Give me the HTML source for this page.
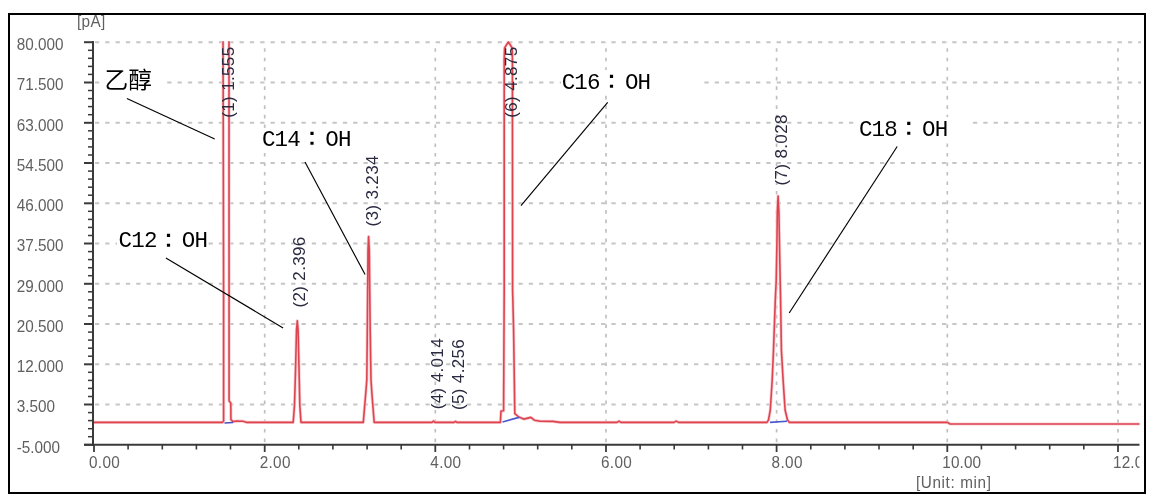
<!DOCTYPE html>
<html><head><meta charset="utf-8"><title>Chromatogram</title>
<style>
html,body{margin:0;padding:0;background:#fff;}
body{width:1157px;height:502px;overflow:hidden;}
svg{display:block;}
.ax{font-family:"Liberation Sans",sans-serif;font-size:15.3px;fill:#606060;}
.pk{font-family:"Liberation Sans",sans-serif;font-size:17px;fill:#2a2a40;}
.cjk{font-family:"Noto Sans CJK SC",sans-serif;font-size:23px;fill:#000;}
.mono{font-family:"Liberation Mono","Noto Sans CJK TC",monospace;font-size:22.5px;fill:#000;}
.colon{font-family:"IPAGothic","Noto Sans CJK JP",sans-serif;font-size:27px;}
.cjkc{font-family:"Noto Sans CJK SC",sans-serif;}
</style></head><body>
<svg width="1157" height="502" viewBox="0 0 1157 502">
<defs><filter id="bl" x="-1%" y="-1%" width="102%" height="102%"><feGaussianBlur stdDeviation="0.6"/></filter><clipPath id="pc"><rect x="94" y="41.3" width="1045.5" height="404"/></clipPath>
<clipPath id="lc"><rect x="0" y="0" width="1139.5" height="502"/></clipPath></defs>
<rect x="0" y="0" width="1157" height="502" fill="#fff"/>
<g filter="url(#bl)"><line x1="95" y1="42.2" x2="1141" y2="42.2" stroke="#c6c6c6" stroke-width="2" stroke-dasharray="4.3 6.03" stroke-dashoffset="0.1"/><line x1="95" y1="82.5" x2="1141" y2="82.5" stroke="#c6c6c6" stroke-width="2" stroke-dasharray="4.3 6.03" stroke-dashoffset="0.1"/><line x1="95" y1="122.8" x2="1141" y2="122.8" stroke="#c6c6c6" stroke-width="2" stroke-dasharray="4.3 6.03" stroke-dashoffset="0.1"/><line x1="95" y1="163.0" x2="1141" y2="163.0" stroke="#c6c6c6" stroke-width="2" stroke-dasharray="4.3 6.03" stroke-dashoffset="0.1"/><line x1="95" y1="203.3" x2="1141" y2="203.3" stroke="#c6c6c6" stroke-width="2" stroke-dasharray="4.3 6.03" stroke-dashoffset="0.1"/><line x1="95" y1="243.5" x2="1141" y2="243.5" stroke="#c6c6c6" stroke-width="2" stroke-dasharray="4.3 6.03" stroke-dashoffset="0.1"/><line x1="95" y1="283.8" x2="1141" y2="283.8" stroke="#c6c6c6" stroke-width="2" stroke-dasharray="4.3 6.03" stroke-dashoffset="0.1"/><line x1="95" y1="324.0" x2="1141" y2="324.0" stroke="#c6c6c6" stroke-width="2" stroke-dasharray="4.3 6.03" stroke-dashoffset="0.1"/><line x1="95" y1="364.3" x2="1141" y2="364.3" stroke="#c6c6c6" stroke-width="2" stroke-dasharray="4.3 6.03" stroke-dashoffset="0.1"/><line x1="95" y1="404.5" x2="1141" y2="404.5" stroke="#c6c6c6" stroke-width="2" stroke-dasharray="4.3 6.03" stroke-dashoffset="0.1"/><line x1="264.7" y1="42" x2="264.7" y2="444" stroke="#c0c0c0" stroke-width="1.7" stroke-dasharray="3.6 5.92" stroke-dashoffset="3.3"/><line x1="435.3" y1="42" x2="435.3" y2="444" stroke="#c0c0c0" stroke-width="1.7" stroke-dasharray="3.6 5.92" stroke-dashoffset="3.3"/><line x1="606.0" y1="42" x2="606.0" y2="444" stroke="#c0c0c0" stroke-width="1.7" stroke-dasharray="3.6 5.92" stroke-dashoffset="3.3"/><line x1="776.6" y1="42" x2="776.6" y2="444" stroke="#c0c0c0" stroke-width="1.7" stroke-dasharray="3.6 5.92" stroke-dashoffset="3.3"/><line x1="947.3" y1="42" x2="947.3" y2="444" stroke="#c0c0c0" stroke-width="1.7" stroke-dasharray="3.6 5.92" stroke-dashoffset="3.3"/><line x1="1118.0" y1="42" x2="1118.0" y2="444" stroke="#c0c0c0" stroke-width="1.7" stroke-dasharray="3.6 5.92" stroke-dashoffset="3.3"/></g>
<g fill="#fff"><rect x="100" y="65" width="65" height="30"/><rect x="117" y="229" width="91" height="22"/><rect x="259" y="128" width="94" height="22"/><rect x="561" y="70" width="142" height="23"/><rect x="855" y="117" width="115" height="23"/></g>
<g clip-path="url(#lc)"><text transform="translate(16.7,49.9) scale(1,1.1)" class="ax">80.000</text><text transform="translate(16.7,90.2) scale(1,1.1)" class="ax">71.500</text><text transform="translate(16.7,130.5) scale(1,1.1)" class="ax">63.000</text><text transform="translate(16.7,170.7) scale(1,1.1)" class="ax">54.500</text><text transform="translate(16.7,211.0) scale(1,1.1)" class="ax">46.000</text><text transform="translate(16.7,251.2) scale(1,1.1)" class="ax">37.500</text><text transform="translate(16.7,291.5) scale(1,1.1)" class="ax">29.000</text><text transform="translate(16.7,331.7) scale(1,1.1)" class="ax">20.500</text><text transform="translate(16.7,372.0) scale(1,1.1)" class="ax">12.000</text><text transform="translate(16.7,412.2) scale(1,1.1)" class="ax">3.500</text><text transform="translate(16.7,452.5) scale(1,1.1)" class="ax">-5.000</text><text transform="translate(89.0,468.0) scale(1,1.1)" class="ax" textLength="30.8" lengthAdjust="spacing">0.00</text><text transform="translate(259.7,468.0) scale(1,1.1)" class="ax" textLength="30.8" lengthAdjust="spacing">2.00</text><text transform="translate(430.3,468.0) scale(1,1.1)" class="ax" textLength="30.8" lengthAdjust="spacing">4.00</text><text transform="translate(601.0,468.0) scale(1,1.1)" class="ax" textLength="30.8" lengthAdjust="spacing">6.00</text><text transform="translate(771.6,468.0) scale(1,1.1)" class="ax" textLength="30.8" lengthAdjust="spacing">8.00</text><text transform="translate(942.3,468.0) scale(1,1.1)" class="ax" textLength="38.8" lengthAdjust="spacing">10.00</text><text transform="translate(1113.0,468.0) scale(1,1.1)" class="ax" textLength="38.8" lengthAdjust="spacing">12.00</text><text transform="translate(77.0,27.3) scale(1,1.1)" class="ax" textLength="28.2" lengthAdjust="spacing">[pA]</text><text transform="translate(915.9,488.3) scale(1,1.1)" class="ax" textLength="75" lengthAdjust="spacing">[Unit: min]</text></g>
<g><line x1="93" y1="41" x2="93" y2="446" stroke="#3a3a3a" stroke-width="2"/><line x1="84" y1="444.8" x2="1139.5" y2="444.8" stroke="#3a3a3a" stroke-width="2"/><line x1="84" y1="42.2" x2="93" y2="42.2" stroke="#3a3a3a" stroke-width="2"/><line x1="88" y1="50.3" x2="93" y2="50.3" stroke="#3a3a3a" stroke-width="1.5"/><line x1="88" y1="58.3" x2="93" y2="58.3" stroke="#3a3a3a" stroke-width="1.5"/><line x1="88" y1="66.4" x2="93" y2="66.4" stroke="#3a3a3a" stroke-width="1.5"/><line x1="88" y1="74.4" x2="93" y2="74.4" stroke="#3a3a3a" stroke-width="1.5"/><line x1="84" y1="82.5" x2="93" y2="82.5" stroke="#3a3a3a" stroke-width="2"/><line x1="88" y1="90.5" x2="93" y2="90.5" stroke="#3a3a3a" stroke-width="1.5"/><line x1="88" y1="98.6" x2="93" y2="98.6" stroke="#3a3a3a" stroke-width="1.5"/><line x1="88" y1="106.6" x2="93" y2="106.6" stroke="#3a3a3a" stroke-width="1.5"/><line x1="88" y1="114.7" x2="93" y2="114.7" stroke="#3a3a3a" stroke-width="1.5"/><line x1="84" y1="122.8" x2="93" y2="122.8" stroke="#3a3a3a" stroke-width="2"/><line x1="88" y1="130.8" x2="93" y2="130.8" stroke="#3a3a3a" stroke-width="1.5"/><line x1="88" y1="138.9" x2="93" y2="138.9" stroke="#3a3a3a" stroke-width="1.5"/><line x1="88" y1="146.9" x2="93" y2="146.9" stroke="#3a3a3a" stroke-width="1.5"/><line x1="88" y1="155.0" x2="93" y2="155.0" stroke="#3a3a3a" stroke-width="1.5"/><line x1="84" y1="163.0" x2="93" y2="163.0" stroke="#3a3a3a" stroke-width="2"/><line x1="88" y1="171.1" x2="93" y2="171.1" stroke="#3a3a3a" stroke-width="1.5"/><line x1="88" y1="179.1" x2="93" y2="179.1" stroke="#3a3a3a" stroke-width="1.5"/><line x1="88" y1="187.2" x2="93" y2="187.2" stroke="#3a3a3a" stroke-width="1.5"/><line x1="88" y1="195.2" x2="93" y2="195.2" stroke="#3a3a3a" stroke-width="1.5"/><line x1="84" y1="203.3" x2="93" y2="203.3" stroke="#3a3a3a" stroke-width="2"/><line x1="88" y1="211.3" x2="93" y2="211.3" stroke="#3a3a3a" stroke-width="1.5"/><line x1="88" y1="219.4" x2="93" y2="219.4" stroke="#3a3a3a" stroke-width="1.5"/><line x1="88" y1="227.4" x2="93" y2="227.4" stroke="#3a3a3a" stroke-width="1.5"/><line x1="88" y1="235.5" x2="93" y2="235.5" stroke="#3a3a3a" stroke-width="1.5"/><line x1="84" y1="243.5" x2="93" y2="243.5" stroke="#3a3a3a" stroke-width="2"/><line x1="88" y1="251.6" x2="93" y2="251.6" stroke="#3a3a3a" stroke-width="1.5"/><line x1="88" y1="259.6" x2="93" y2="259.6" stroke="#3a3a3a" stroke-width="1.5"/><line x1="88" y1="267.7" x2="93" y2="267.7" stroke="#3a3a3a" stroke-width="1.5"/><line x1="88" y1="275.7" x2="93" y2="275.7" stroke="#3a3a3a" stroke-width="1.5"/><line x1="84" y1="283.8" x2="93" y2="283.8" stroke="#3a3a3a" stroke-width="2"/><line x1="88" y1="291.8" x2="93" y2="291.8" stroke="#3a3a3a" stroke-width="1.5"/><line x1="88" y1="299.9" x2="93" y2="299.9" stroke="#3a3a3a" stroke-width="1.5"/><line x1="88" y1="307.9" x2="93" y2="307.9" stroke="#3a3a3a" stroke-width="1.5"/><line x1="88" y1="316.0" x2="93" y2="316.0" stroke="#3a3a3a" stroke-width="1.5"/><line x1="84" y1="324.0" x2="93" y2="324.0" stroke="#3a3a3a" stroke-width="2"/><line x1="88" y1="332.1" x2="93" y2="332.1" stroke="#3a3a3a" stroke-width="1.5"/><line x1="88" y1="340.1" x2="93" y2="340.1" stroke="#3a3a3a" stroke-width="1.5"/><line x1="88" y1="348.2" x2="93" y2="348.2" stroke="#3a3a3a" stroke-width="1.5"/><line x1="88" y1="356.2" x2="93" y2="356.2" stroke="#3a3a3a" stroke-width="1.5"/><line x1="84" y1="364.3" x2="93" y2="364.3" stroke="#3a3a3a" stroke-width="2"/><line x1="88" y1="372.3" x2="93" y2="372.3" stroke="#3a3a3a" stroke-width="1.5"/><line x1="88" y1="380.4" x2="93" y2="380.4" stroke="#3a3a3a" stroke-width="1.5"/><line x1="88" y1="388.4" x2="93" y2="388.4" stroke="#3a3a3a" stroke-width="1.5"/><line x1="88" y1="396.5" x2="93" y2="396.5" stroke="#3a3a3a" stroke-width="1.5"/><line x1="84" y1="404.5" x2="93" y2="404.5" stroke="#3a3a3a" stroke-width="2"/><line x1="88" y1="412.6" x2="93" y2="412.6" stroke="#3a3a3a" stroke-width="1.5"/><line x1="88" y1="420.6" x2="93" y2="420.6" stroke="#3a3a3a" stroke-width="1.5"/><line x1="88" y1="428.7" x2="93" y2="428.7" stroke="#3a3a3a" stroke-width="1.5"/><line x1="88" y1="436.7" x2="93" y2="436.7" stroke="#3a3a3a" stroke-width="1.5"/><line x1="84" y1="444.8" x2="93" y2="444.8" stroke="#3a3a3a" stroke-width="2"/><line x1="94.0" y1="444.8" x2="94.0" y2="452" stroke="#3a3a3a" stroke-width="1.8"/><line x1="128.1" y1="444.8" x2="128.1" y2="449.5" stroke="#3a3a3a" stroke-width="1.6"/><line x1="162.3" y1="444.8" x2="162.3" y2="449.5" stroke="#3a3a3a" stroke-width="1.6"/><line x1="196.4" y1="444.8" x2="196.4" y2="449.5" stroke="#3a3a3a" stroke-width="1.6"/><line x1="230.5" y1="444.8" x2="230.5" y2="449.5" stroke="#3a3a3a" stroke-width="1.6"/><line x1="264.7" y1="444.8" x2="264.7" y2="452" stroke="#3a3a3a" stroke-width="1.8"/><line x1="298.8" y1="444.8" x2="298.8" y2="449.5" stroke="#3a3a3a" stroke-width="1.6"/><line x1="332.9" y1="444.8" x2="332.9" y2="449.5" stroke="#3a3a3a" stroke-width="1.6"/><line x1="367.1" y1="444.8" x2="367.1" y2="449.5" stroke="#3a3a3a" stroke-width="1.6"/><line x1="401.2" y1="444.8" x2="401.2" y2="449.5" stroke="#3a3a3a" stroke-width="1.6"/><line x1="435.3" y1="444.8" x2="435.3" y2="452" stroke="#3a3a3a" stroke-width="1.8"/><line x1="469.5" y1="444.8" x2="469.5" y2="449.5" stroke="#3a3a3a" stroke-width="1.6"/><line x1="503.6" y1="444.8" x2="503.6" y2="449.5" stroke="#3a3a3a" stroke-width="1.6"/><line x1="537.7" y1="444.8" x2="537.7" y2="449.5" stroke="#3a3a3a" stroke-width="1.6"/><line x1="571.8" y1="444.8" x2="571.8" y2="449.5" stroke="#3a3a3a" stroke-width="1.6"/><line x1="606.0" y1="444.8" x2="606.0" y2="452" stroke="#3a3a3a" stroke-width="1.8"/><line x1="640.1" y1="444.8" x2="640.1" y2="449.5" stroke="#3a3a3a" stroke-width="1.6"/><line x1="674.2" y1="444.8" x2="674.2" y2="449.5" stroke="#3a3a3a" stroke-width="1.6"/><line x1="708.4" y1="444.8" x2="708.4" y2="449.5" stroke="#3a3a3a" stroke-width="1.6"/><line x1="742.5" y1="444.8" x2="742.5" y2="449.5" stroke="#3a3a3a" stroke-width="1.6"/><line x1="776.6" y1="444.8" x2="776.6" y2="452" stroke="#3a3a3a" stroke-width="1.8"/><line x1="810.8" y1="444.8" x2="810.8" y2="449.5" stroke="#3a3a3a" stroke-width="1.6"/><line x1="844.9" y1="444.8" x2="844.9" y2="449.5" stroke="#3a3a3a" stroke-width="1.6"/><line x1="879.0" y1="444.8" x2="879.0" y2="449.5" stroke="#3a3a3a" stroke-width="1.6"/><line x1="913.2" y1="444.8" x2="913.2" y2="449.5" stroke="#3a3a3a" stroke-width="1.6"/><line x1="947.3" y1="444.8" x2="947.3" y2="452" stroke="#3a3a3a" stroke-width="1.8"/><line x1="981.4" y1="444.8" x2="981.4" y2="449.5" stroke="#3a3a3a" stroke-width="1.6"/><line x1="1015.6" y1="444.8" x2="1015.6" y2="449.5" stroke="#3a3a3a" stroke-width="1.6"/><line x1="1049.7" y1="444.8" x2="1049.7" y2="449.5" stroke="#3a3a3a" stroke-width="1.6"/><line x1="1083.8" y1="444.8" x2="1083.8" y2="449.5" stroke="#3a3a3a" stroke-width="1.6"/><line x1="1118.0" y1="444.8" x2="1118.0" y2="452" stroke="#3a3a3a" stroke-width="1.8"/></g>
<g clip-path="url(#pc)"><polyline points="94.0,422.4 222.6,422.4 223.6,420.9 223.6,300.0 223.1,60.0 223.0,30.0 229.0,30.0 229.0,60.0 229.1,401.0 230.8,403.0 230.9,419.5 233.0,421.6 237.0,421.0 243.0,421.2 247.0,422.4 293.2,422.4 294.5,405.0 295.6,368.0 296.5,330.0 297.3,320.8 298.1,330.0 299.0,368.0 299.8,405.0 301.0,422.4 363.3,422.4 365.6,395.0 366.8,380.0 367.3,330.0 368.0,250.0 368.6,236.5 369.3,250.0 370.2,330.0 371.0,380.0 372.0,395.0 374.2,422.4 432.0,422.4 433.5,421.0 435.0,422.4 454.0,422.4 455.5,421.4 457.0,422.4 500.4,422.4 501.0,411.0 503.6,410.8 504.2,290.0 504.2,60.0 504.6,48.0 508.3,41.8 512.2,48.0 512.4,60.0 512.6,290.0 513.6,330.0 514.8,413.7 518.9,417.0 523.7,419.1 530.9,417.4 534.4,420.2 540.0,421.2 553.0,421.4 560.0,422.4 617.0,422.4 619.0,421.1 621.0,422.4 674.0,422.4 676.2,421.1 678.5,422.4 767.0,422.4 768.5,420.0 770.3,410.0 772.2,380.0 773.5,350.0 775.3,300.0 776.2,281.0 776.9,245.0 777.3,212.0 778.1,196.0 778.9,212.0 779.5,245.0 780.2,281.0 780.6,300.0 781.4,350.0 783.1,380.0 785.1,410.0 787.5,420.0 789.5,422.4 947.5,422.4 950.0,424.0 1140.0,424.0" fill="none" stroke="#f9cdd1" stroke-width="3.2" stroke-linejoin="round"/><polyline points="94.0,422.4 222.6,422.4 223.6,420.9 223.6,300.0 223.1,60.0 223.0,30.0 229.0,30.0 229.0,60.0 229.1,401.0 230.8,403.0 230.9,419.5 233.0,421.6 237.0,421.0 243.0,421.2 247.0,422.4 293.2,422.4 294.5,405.0 295.6,368.0 296.5,330.0 297.3,320.8 298.1,330.0 299.0,368.0 299.8,405.0 301.0,422.4 363.3,422.4 365.6,395.0 366.8,380.0 367.3,330.0 368.0,250.0 368.6,236.5 369.3,250.0 370.2,330.0 371.0,380.0 372.0,395.0 374.2,422.4 432.0,422.4 433.5,421.0 435.0,422.4 454.0,422.4 455.5,421.4 457.0,422.4 500.4,422.4 501.0,411.0 503.6,410.8 504.2,290.0 504.2,60.0 504.6,48.0 508.3,41.8 512.2,48.0 512.4,60.0 512.6,290.0 513.6,330.0 514.8,413.7 518.9,417.0 523.7,419.1 530.9,417.4 534.4,420.2 540.0,421.2 553.0,421.4 560.0,422.4 617.0,422.4 619.0,421.1 621.0,422.4 674.0,422.4 676.2,421.1 678.5,422.4 767.0,422.4 768.5,420.0 770.3,410.0 772.2,380.0 773.5,350.0 775.3,300.0 776.2,281.0 776.9,245.0 777.3,212.0 778.1,196.0 778.9,212.0 779.5,245.0 780.2,281.0 780.6,300.0 781.4,350.0 783.1,380.0 785.1,410.0 787.5,420.0 789.5,422.4 947.5,422.4 950.0,424.0 1140.0,424.0" fill="none" stroke="#dc4450" stroke-width="1.6" stroke-linejoin="round"/><line x1="224.5" y1="423" x2="233" y2="422.6" stroke="#4a50c0" stroke-width="1.5"/><line x1="502.5" y1="422" x2="519" y2="417.3" stroke="#4a58d0" stroke-width="1.8"/><line x1="770" y1="422.4" x2="787" y2="421.2" stroke="#4a58d0" stroke-width="1.6"/></g>
<g><text transform="translate(234,117.7) rotate(-90)" class="pk" textLength="70.8" lengthAdjust="spacing">(1) 1.555</text><text transform="translate(304.5,307.5) rotate(-90)" class="pk" textLength="70.8" lengthAdjust="spacing">(2) 2.396</text><text transform="translate(378.1,226.4) rotate(-90)" class="pk" textLength="70.8" lengthAdjust="spacing">(3) 3.234</text><text transform="translate(443,409.2) rotate(-90)" class="pk" textLength="70.8" lengthAdjust="spacing">(4) 4.014</text><text transform="translate(463.8,410) rotate(-90)" class="pk" textLength="70.8" lengthAdjust="spacing">(5) 4.256</text><text transform="translate(517,117.7) rotate(-90)" class="pk" textLength="70.8" lengthAdjust="spacing">(6) 4.875</text><text transform="translate(787,185.4) rotate(-90)" class="pk" textLength="70.8" lengthAdjust="spacing">(7) 8.028</text></g>
<g><text transform="translate(104.6,88.4) scale(1.03,0.97)" class="cjk">乙醇</text><text x="118.6 131.2 143.9" y="247.2" class="mono">C12<tspan class="colon" x="155.0" y="247.5">：</tspan><tspan x="181.8 194.5" y="247.2">OH</tspan></text><text x="262.0 274.6 287.3" y="146.1" class="mono">C14<tspan class="colon" x="298.4" y="146.4">：</tspan><tspan x="325.2 337.9" y="146.1">OH</tspan></text><text x="561.7 574.3 587.0" y="89.1" class="mono">C16<tspan class="colon" x="598.1" y="89.39999999999999">：</tspan><tspan x="624.9 637.6" y="89.1">OH</tspan></text><text x="858.9 871.5 884.2" y="136.1" class="mono">C18<tspan class="colon" x="895.3" y="136.4">：</tspan><tspan x="922.1 934.8" y="136.1">OH</tspan></text><line x1="126.9" y1="98.5" x2="214.7" y2="138.9" stroke="#000" stroke-width="1.15"/><line x1="165.9" y1="257.9" x2="283.1" y2="328" stroke="#000" stroke-width="1.15"/><line x1="305" y1="162" x2="365.1" y2="274.5" stroke="#000" stroke-width="1.15"/><line x1="607.7" y1="102.3" x2="521" y2="205.6" stroke="#000" stroke-width="1.15"/><line x1="897.2" y1="146.5" x2="789.2" y2="313" stroke="#000" stroke-width="1.15"/></g>
<rect x="9" y="14" width="1136" height="479" fill="none" stroke="#000" stroke-width="2"/>
</svg>
</body></html>
